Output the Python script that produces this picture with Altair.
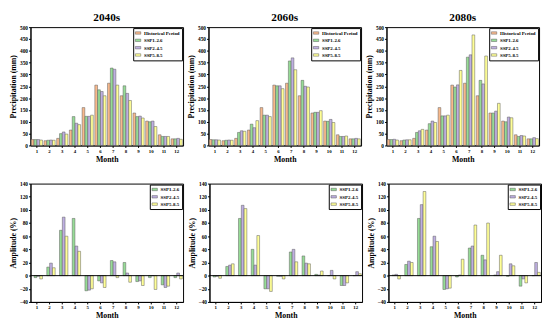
import altair as alt
import pandas as pd

FONT = "Liberation Serif"

months = list(range(1, 13))
scen_top = ["Historical Period", "SSP1-2.6", "SSP2-4.5", "SSP5-8.5"]
scen_bot = ["SSP1-2.6", "SSP2-4.5", "SSP5-8.5"]
colors_top = ["#F8B98C", "#96DC96", "#BEAFE1", "#FFFF96"]
colors_bot = ["#96DC96", "#BEAFE1", "#FFFF96"]
periods = ["2040s", "2060s", "2080s"]

hist = [25, 20, 30, 65, 160, 255, 263, 210, 137, 103, 45, 28]

p40_126 = [25, 22, 50, 122, 123, 235, 327, 252, 122, 100, 38, 28]
p40_245 = [25, 23, 57, 94, 123, 228, 322, 220, 124, 103, 38, 30]
p40_585 = [23, 22, 48, 88, 128, 210, 255, 190, 116, 80, 38, 26]

p60_126 = [24, 22, 55, 90, 128, 252, 357, 275, 140, 102, 38, 28]
p60_245 = [24, 23, 62, 75, 128, 252, 370, 250, 140, 110, 38, 30]
p60_585 = [23, 22, 60, 105, 122, 240, 320, 247, 147, 97, 40, 28]

p80_126 = [25, 23, 55, 92, 125, 247, 373, 275, 137, 100, 38, 28]
p80_245 = [26, 24, 62, 103, 125, 256, 383, 260, 145, 120, 42, 33]
p80_585 = [23, 24, 68, 97, 128, 317, 467, 378, 178, 117, 40, 29]

a40_126 = [-3, 13, 69, 87, -23, -8, 23, 20, -9, -3, -14, -3]
a40_245 = [-1, 19, 89, 45, -22, -11, 21, 4, -8, 0, -18, 4]
a40_585 = [-5, 12, 60, 37, -20, -18, -3, -10, -15, -21, -16, -5]

a60_126 = [-2, 14, 87, 40, -20, -1, 36, 30, 2, 0, -15, 0]
a60_245 = [-1, 16, 107, 16, -20, -1, 40, 19, 1, 8, -15, 6]
a60_585 = [-4, 18, 102, 61, -24, -5, 21, 18, 7, -5, -11, 3]

a80_126 = [1, 17, 87, 44, -21, -2, 42, 31, 1, -1, -16, 0]
a80_245 = [2, 22, 108, 60, -20, 1, 45, 24, 6, 18, -5, 20]
a80_585 = [-5, 20, 128, 52, -19, 25, 77, 80, 31, 15, -11, 5]

top_ticks = list(range(0, 501, 50))
bot_ticks = list(range(-40, 141, 20))

W, H = 156, 121


def panel(series, scen, colors, domain, ticks, ytitle, title=None, zero_line=False):
    rows = []
    for s, vals in zip(scen, series):
        for m, v in zip(months, vals):
            rows.append({"Month": m, "Scenario": s, "Value": v})
    df = pd.DataFrame(rows)
    yenc = alt.Y("Value:Q", title=ytitle,
                 scale=alt.Scale(domain=domain, nice=False, zero=True),
                 axis=alt.Axis(values=ticks, labelOverlap=False, labelFlush=False,
                               labelFontSize=5.5, labelExpr="datum.label"))
    bars = alt.Chart(df).mark_bar(stroke="#5a5a5a", strokeWidth=0.5).encode(
        x=alt.X("Month:O", title="Month",
                scale=alt.Scale(paddingInner=0.12, paddingOuter=0.06),
                axis=alt.Axis(labelAngle=0)),
        xOffset=alt.XOffset("Scenario:N", sort=scen,
                            scale=alt.Scale(domain=scen, paddingInner=0.05)),
        y=yenc,
        color=alt.Color("Scenario:N",
                        scale=alt.Scale(domain=scen, range=colors),
                        legend=alt.Legend(title=None, orient="top-right", offset=1,
                                          strokeColor="black", fillColor="white",
                                          padding=2, labelFont=FONT, labelFontSize=5,
                                          labelFontWeight="bold", labelColor="black",
                                          symbolType="M-1,-0.45H1V0.45H-1Z", symbolSize=30,
                                          symbolStrokeColor="#5a5a5a", symbolStrokeWidth=0.5,
                                          symbolOpacity=1,
                                          rowPadding=1.5, labelOffset=3)),
    )
    layers = [bars]
    if zero_line:
        rule = alt.Chart(pd.DataFrame({"Value": [0]})).mark_rule(
            color="black", strokeWidth=1).encode(y=yenc)
        layers.append(rule)
    ch = alt.layer(*layers).properties(width=W, height=H)
    if title:
        ch = ch.properties(title=alt.TitleParams(title, font=FONT, fontSize=11.5,
                                                 fontWeight="bold", anchor="middle",
                                                 offset=2, color="black"))
    return ch


top_series = [
    [hist, p40_126, p40_245, p40_585],
    [hist, p60_126, p60_245, p60_585],
    [hist, p80_126, p80_245, p80_585],
]
bot_series = [
    [a40_126, a40_245, a40_585],
    [a60_126, a60_245, a60_585],
    [a80_126, a80_245, a80_585],
]

top = alt.hconcat(*[
    panel(s, scen_top, colors_top, [0, 500], top_ticks, "Precipitation (mm)", title=t)
    for s, t in zip(top_series, periods)
], spacing=3).resolve_scale(color="independent").resolve_legend(color="independent")

bot = alt.hconcat(*[
    panel(s, scen_bot, colors_bot, [-40, 140], bot_ticks, "Amplitude (%)", zero_line=True)
    for s in bot_series
], spacing=3).resolve_scale(color="independent").resolve_legend(color="independent")

chart = alt.vconcat(top, bot, spacing=17).resolve_scale(
    color="independent").resolve_legend(color="independent").properties(
    padding=0).configure_axis(
    labelFont=FONT, labelFontSize=5, labelFontWeight="bold", labelColor="black",
    titleFont=FONT, titleFontSize=8, titleFontWeight="bold", titleColor="black",
    domainColor="black", tickColor="black", tickSize=2, labelPadding=1,
    titlePadding=2, grid=False, labelOverlap=False).configure_view(stroke="black", strokeWidth=1)

chart.save("out.html", embed_options={"renderer": "svg", "actions": False})
